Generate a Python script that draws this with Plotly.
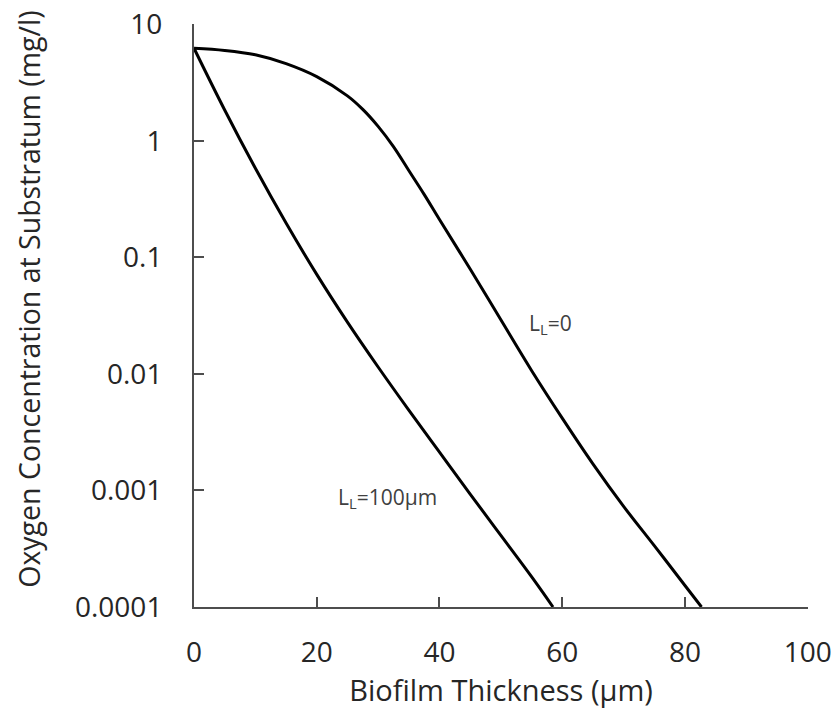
import math
import plotly.graph_objects as go

# Biofilm thickness (µm)
x_l0 = [0, 5, 10, 15, 20, 25, 27.5, 30, 32.5, 35, 37.5, 40, 45, 50, 55, 60, 65, 70, 75, 80, 82.7]
# Oxygen concentration at substratum (mg/l), L_L = 0
y_l0 = [6.22, 5.96, 5.47, 4.59, 3.55, 2.43, 1.86, 1.33, 0.891, 0.556, 0.347, 0.211,
        0.0794, 0.0291, 0.0107, 0.00417, 0.00169, 0.00073, 0.000336, 0.000153, 0.0001]

x_l100 = [0, 5, 10, 15, 20, 25, 30, 35, 40, 45, 50, 55, 58.5]
# L_L = 100 µm
y_l100 = [6.22, 1.837, 0.581, 0.197, 0.0714, 0.0278, 0.01146, 0.00489, 0.00213,
          0.000931, 0.000411, 0.000182, 0.0001]

y_tickvals = [10, 1, 0.1, 0.01, 0.001, 0.0001]
y_ticktext = ["10", "1", "0.1", "0.01", "0.001", "0.0001"]
x_tickvals = [0, 20, 40, 60, 80, 100]

label_l0 = ("L<sub>L</sub>=0", 54.2, 0.0267)
label_l100 = ("L<sub>L</sub>=100µm", 23.1, 0.00087)

x_title = "Biofilm Thickness (µm)"
y_title = "Oxygen Concentration at Substratum (mg/l)"

FONT = "Open Sans"
AXIS_COLOR = "#4d4d4d"

fig = go.Figure()
for xs, ys in ((x_l0, y_l0), (x_l100, y_l100)):
    fig.add_trace(go.Scatter(x=xs, y=ys, mode="lines",
                             line=dict(color="black", width=3, shape="spline", smoothing=1.0),
                             showlegend=False, cliponaxis=False))

for txt, ax, ay in (label_l0, label_l100):
    fig.add_annotation(x=ax, y=math.log10(ay), yref="y", xref="x", text=txt, showarrow=False,
                       xanchor="left", yanchor="middle",
                       font=dict(family=FONT, size=21, color="#404040"))

fig.add_annotation(x=-0.2687, y=0.527, xref="paper", yref="paper", text=y_title,
                   textangle=-90, showarrow=False, xanchor="center", yanchor="middle",
                   font=dict(family=FONT, size=28.5, color="#262626"))

fig.update_layout(
    width=831, height=711,
    margin=dict(l=186, r=31, t=16, b=112, autoexpand=False),
    paper_bgcolor="white", plot_bgcolor="white",
    font=dict(family=FONT, color="#262626"),
    xaxis=dict(range=[0, 100.05], tickvals=x_tickvals, automargin=False,
               showgrid=False, zeroline=False,
               showline=True, linecolor=AXIS_COLOR, linewidth=2,
               ticks="inside", ticklen=10, tickwidth=2, tickcolor=AXIS_COLOR,
               tickfont=dict(family=FONT, size=28, color="#262626"),
               ticklabelstandoff=19, ticklabeloverflow="allow",
               title=dict(text=x_title,
                          font=dict(family=FONT, size=29, color="#262626"),
                          standoff=12)),
    yaxis=dict(type="log", range=[-4, 1.002], tickvals=y_tickvals, ticktext=y_ticktext,
               automargin=False,
               showgrid=False, zeroline=False,
               showline=True, linecolor=AXIS_COLOR, linewidth=2,
               ticks="inside", ticklen=10, tickwidth=2, tickcolor=AXIS_COLOR,
               tickfont=dict(family=FONT, size=28, color="#262626"),
               ticklabelstandoff=24, ticklabeloverflow="allow"),
)

fig.write_html("out.html")
